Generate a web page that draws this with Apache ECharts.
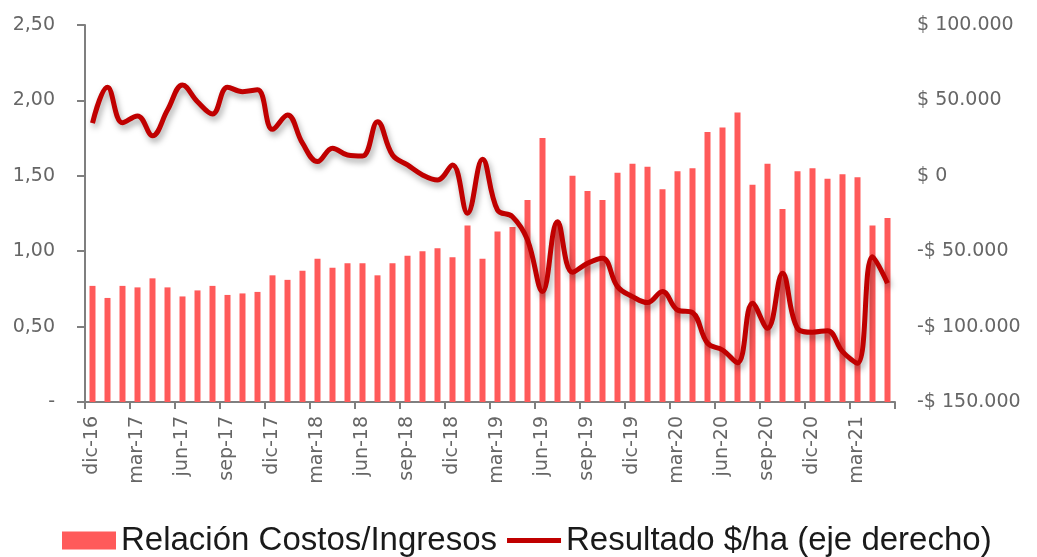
<!DOCTYPE html>
<html>
<head>
<meta charset="utf-8">
<script src="https://cdn.jsdelivr.net/npm/echarts@6/dist/echarts.min.js"></script>
<style>
  html, body { margin: 0; padding: 0; background: #fff; }
  #chart { width: 1037px; height: 557px; }
</style>
</head>
<body>
<div id="chart"></div>
<script>
var months = [
  'dic-16',
  'ene-17', 'feb-17', 'mar-17', 'abr-17', 'may-17', 'jun-17', 'jul-17', 'ago-17', 'sep-17', 'oct-17', 'nov-17', 'dic-17',
  'ene-18', 'feb-18', 'mar-18', 'abr-18', 'may-18', 'jun-18', 'jul-18', 'ago-18', 'sep-18', 'oct-18', 'nov-18', 'dic-18',
  'ene-19', 'feb-19', 'mar-19', 'abr-19', 'may-19', 'jun-19', 'jul-19', 'ago-19', 'sep-19', 'oct-19', 'nov-19', 'dic-19',
  'ene-20', 'feb-20', 'mar-20', 'abr-20', 'may-20', 'jun-20', 'jul-20', 'ago-20', 'sep-20', 'oct-20', 'nov-20', 'dic-20',
  'ene-21', 'feb-21', 'mar-21', 'abr-21', 'may-21'
]

// Relación Costos/Ingresos (eje izquierdo)
var ratio = [
  0.77,
  0.69, 0.77, 0.76, 0.82, 0.76, 0.70, 0.74, 0.77, 0.71, 0.72, 0.73, 0.84,
  0.81, 0.87, 0.95, 0.89, 0.92, 0.92, 0.84, 0.92, 0.97, 1.00, 1.02, 0.96,
  1.17, 0.95, 1.13, 1.16, 1.34, 1.75, 1.20, 1.50, 1.40, 1.34, 1.52, 1.58,
  1.56, 1.41, 1.53, 1.55, 1.79, 1.82, 1.92, 1.44, 1.58, 1.28, 1.53, 1.55,
  1.48, 1.51, 1.49, 1.17, 1.22
]

// Resultado $/ha (eje derecho)
var result = [
  35000,
  58700, 35200, 39700, 26600, 43600, 60200, 49100, 41000, 58700, 55800, 57000, 30800,
  40300, 21600, 9400, 18300, 13800, 13100, 35900, 13800, 7200, 550, -2800, 7200,
  -24800, 11000, -22700, -27100, -42500, -76800, -30400, -64000, -58000, -54700, -73500, -80100,
  -84100, -76800, -89000, -90700, -111000, -115500, -123900, -84500, -101100, -64600, -101100, -103700,
  -102700, -116600, -124300, -53600, -71300
]

var axisColor = '#7f7f7f'
var labelColor = '#666666'
var labelFont = 'DejaVu Sans'

function fmtRatio(v) {
  if (v === 0) return '-'
  return v.toFixed(2).replace('.', ',')
}

function fmtMoney(v) {
  if (v === 0) return '$ 0'
  var s = Math.abs(v).toString().replace(/\B(?=(\d{3})+(?!\d))/g, '.')
  return (v < 0 ? '-' : '') + '$ ' + s
}

var myChart = echarts.init(document.getElementById('chart'))
var option = {
  animation: false,
  grid: { left: 85, right: 142, top: 25, bottom: 155 },
  legend: {
    top: 519,
    left: 57,
    itemWidth: 54,
    itemHeight: 18,
    itemGap: 10,
    textStyle: { fontFamily: 'Liberation Sans', fontSize: 33, color: '#1a1a1a' },
    data: [
      { name: 'Relación Costos/Ingresos', icon: 'rect' },
      { name: 'Resultado $/ha (eje derecho)', icon: 'path://M0,0 L54,0 L54,5 L0,5 Z' }
    ]
  },
  xAxis: {
    type: 'category',
    data: months,
    boundaryGap: true,
    axisLine: { lineStyle: { color: axisColor, width: 2 } },
    axisTick: { show: true, interval: 2, length: 7, lineStyle: { color: axisColor, width: 2 } },
    axisLabel: {
      interval: 2,
      rotate: 90,
      margin: 14,
      color: labelColor,
      fontFamily: labelFont,
      fontSize: 19
    },
    splitLine: { show: false }
  },
  yAxis: [
    {
      type: 'value',
      min: 0,
      max: 2.5,
      interval: 0.5,
      axisLine: { show: true, lineStyle: { color: axisColor, width: 2 } },
      axisTick: { show: true, length: 8, lineStyle: { color: axisColor, width: 2 } },
      axisLabel: {
        margin: 30,
        color: labelColor,
        fontFamily: labelFont,
        fontSize: 19,
        formatter: fmtRatio
      },
      splitLine: { show: false }
    },
    {
      type: 'value',
      min: -150000,
      max: 100000,
      interval: 50000,
      position: 'right',
      axisLine: { show: false },
      axisTick: { show: false },
      axisLabel: {
        margin: 22,
        color: labelColor,
        fontFamily: labelFont,
        fontSize: 19,
        formatter: fmtMoney
      },
      splitLine: { show: false }
    }
  ],
  series: [
    {
      name: 'Relación Costos/Ingresos',
      type: 'bar',
      yAxisIndex: 0,
      barWidth: 6,
      itemStyle: { color: '#ff5a5a' },
      data: ratio
    },
    {
      name: 'Resultado $/ha (eje derecho)',
      type: 'line',
      yAxisIndex: 1,
      smooth: 0.4,
      symbol: 'none',
      itemStyle: { color: '#c00000' },
      lineStyle: {
        color: '#c00000',
        width: 5,
        shadowColor: 'rgba(0,0,0,0.35)',
        shadowBlur: 6,
        shadowOffsetX: 2,
        shadowOffsetY: 4
      },
      data: result
    }
  ]
}
option && myChart.setOption(option)
</script>
</body>
</html>
